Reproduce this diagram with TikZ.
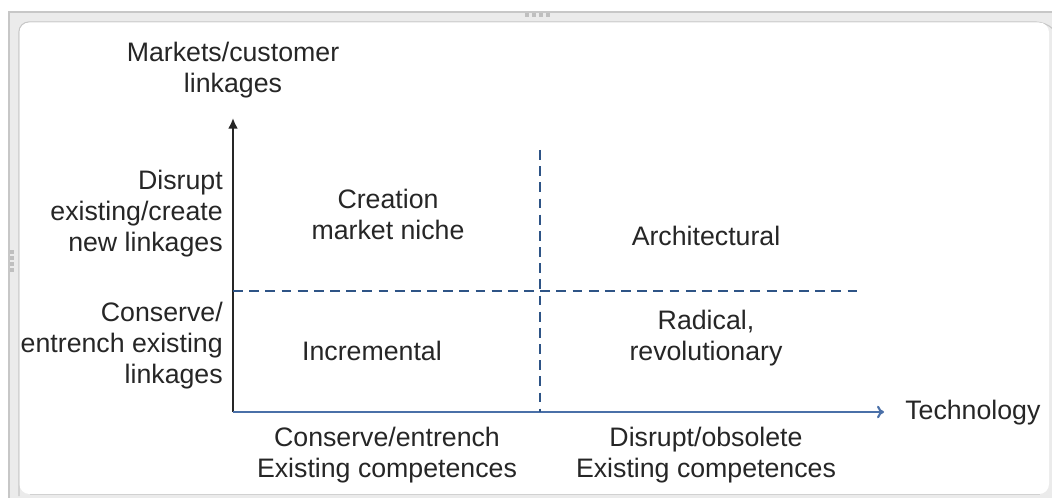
\documentclass[tikz,border=0pt]{standalone}
\usepackage{fontspec}
\setmainfont{Liberation Sans}
\usepackage{tikz}
\usetikzlibrary{positioning,arrows.meta}
\usepackage{xcolor}
\definecolor{axisblue}{HTML}{4A70A8}
\definecolor{dashblue}{HTML}{2E5486}
\tikzstyle{txt}=[align=center, inner sep=0pt, text=black!85, font=\fontsize{19}{22}\selectfont]
\tikzstyle{side}=[txt, align=right, anchor=east]
\tikzstyle{divider}=[dashblue, line width=1.4pt, dash pattern=on 7pt off 4.5pt]
\tikzstyle{grip}=[fill=black!25, minimum size=3pt, inner sep=0pt]

\begin{document}
\begin{tikzpicture}[x=0.025cm, y=-0.025cm]
    \useasboundingbox (0,0) rectangle (1052,498);
    % window frame
    \fill[black!8] (9,12) rectangle (1052,498);
    \draw[black!22, line width=0.8pt] (9,498) -- (9,12) -- (1052,12);
    \draw[black!22, line width=0.8pt, rounded corners=7pt] (19,496) -- (19,22) -- (1046,22) -- (1052,28);
    \fill[white, rounded corners=7pt] (19.5,22.5) rectangle (1049,494);
    \draw[black!18, line width=0.8pt] (30,494.5) -- (1040,494.5);
    \foreach \i in {0,...,3} {
        \node[grip] (t\i) at (527+7*\i,15) {};
        \node[grip] (l\i) at (12,252+6*\i) {};
    }

    % axes
    \coordinate (o) at (233,412);
    \coordinate (ytip) at (233,118);
    \coordinate (xtip) at (884,412);
    \draw[-{Latex[length=7.5pt,width=7pt]}, black!85, line width=1.6pt] (o) -- (ytip);
    \draw[-{To[length=5pt,width=9pt]}, axisblue, line width=1.5pt] (o) -- (xtip);

    % quadrant dividers
    \coordinate (vtop) at (540,150);
    \coordinate (vbot) at (540,412);
    \coordinate (hleft) at (233,291);
    \coordinate (hright) at (858,291);
    \draw[divider] (vtop) -- (vbot);
    \draw[divider] (hleft) -- (hright);

    % axis labels
    \node (1)[txt] at (233,70) {Markets/customer\\linkages};
    \node (2)[side] at (223,214) {Disrupt\\existing/create\\new linkages};
    \node (3)[side] at (223,346) {Conserve/\\entrench existing\\linkages};
    \node (8)[txt, anchor=west] at (905,413) {Technology};
    \node (9)[txt] at (387,455) {Conserve/entrench\\Existing competences};
    \node (10)[txt] at (706,455) {Disrupt/obsolete\\Existing competences};

    % quadrants
    \node (4)[txt] at (388,214) {Creation\\market niche};
    \node (5)[txt] at (706,236) {Architectural};
    \node (6)[txt] at (372,351) {Incremental};
    \node (7)[txt] at (706,338) {Radical,\\revolutionary};
\end{tikzpicture}
\end{document}
